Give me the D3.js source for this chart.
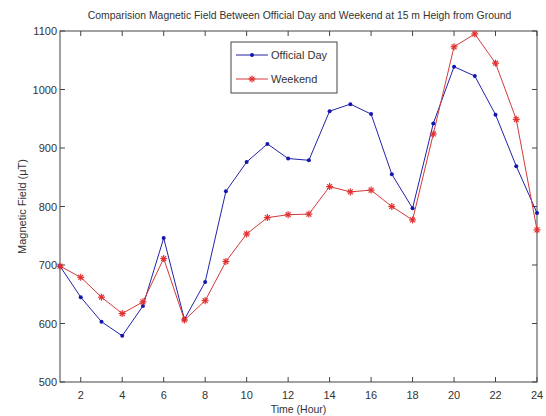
<!DOCTYPE html>
<html><head><meta charset="utf-8">
<script src="https://cdn.jsdelivr.net/npm/d3@7/dist/d3.min.js"></script>
<style>
body{margin:0;background:#fff;}
svg text{font-family:"Liberation Sans",Arial,sans-serif;fill:#333;}
</style></head>
<body><svg id="c" width="546" height="416"></svg>
<script>
const hours = [1,2,3,4,5,6,7,8,9,10,11,12,13,14,15,16,17,18,19,20,21,22,23,24];
const officialDay = [698,645,603,579,630,746,607,671,826,876,907,882,879,963,975,958,855,797,942,1039,1023,957,869,789];
const weekend = [698,679,645,617,637,711,606,639,706,753,781,786,787,834,825,828,800,777,924,1073,1095,1045,949,760];
const xTicks = [2,4,6,8,10,12,14,16,18,20,22,24];
const yTicks = [500,600,700,800,900,1000,1100];
const title = "Comparision Magnetic Field Between Official Day and Weekend at 15 m Heigh from Ground";
const xLabel = "Time (Hour)";
const yLabel = "Magnetic Field (\u03bcT)";
const seriesNames = ["Official Day","Weekend"];

const svg = d3.select("#c");
const L=60, R=537, T=31, B=382;
const x = d3.scaleLinear().domain([1,24]).range([L,R]);
const y = d3.scaleLinear().domain([500,1100]).range([B,T]);
const axisColor = "#444";

svg.append("rect").attr("x",L).attr("y",T).attr("width",R-L).attr("height",B-T)
  .attr("fill","none").attr("stroke",axisColor).attr("stroke-width",1);

const g = svg.append("g").attr("stroke",axisColor).attr("stroke-width",1);
xTicks.forEach(t=>{
  g.append("line").attr("x1",x(t)).attr("x2",x(t)).attr("y1",B).attr("y2",B-5);
  g.append("line").attr("x1",x(t)).attr("x2",x(t)).attr("y1",T).attr("y2",T+5);
});
yTicks.forEach(t=>{
  g.append("line").attr("x1",L).attr("x2",L+5).attr("y1",y(t)).attr("y2",y(t));
  g.append("line").attr("x1",R).attr("x2",R-5).attr("y1",y(t)).attr("y2",y(t));
});
xTicks.forEach(t=>{
  svg.append("text").attr("x",x(t)).attr("y",B+17).attr("text-anchor","middle")
    .attr("font-size",11).text(t);
});
yTicks.forEach(t=>{
  svg.append("text").attr("x",L-3).attr("y",y(t)+4).attr("text-anchor","end")
    .attr("font-size",11).text(t);
});
svg.append("text").attr("x",(L+R)/2).attr("y",413).attr("text-anchor","middle")
  .attr("font-size",10.5).text(xLabel);
svg.append("text").attr("transform",`translate(26,${(T+B)/2}) rotate(-90)`)
  .attr("text-anchor","middle").attr("font-size",11).text(yLabel);
svg.append("text").attr("x",(L+R)/2+1).attr("y",19).attr("text-anchor","middle")
  .attr("font-size",10.4).text(title);

const line = d3.line().x((d,i)=>x(hours[i])).y(d=>y(d));
const blue="#2323a8", red="#d23a3a";
svg.append("path").datum(officialDay).attr("d",line).attr("fill","none")
  .attr("stroke",blue).attr("stroke-width",1);
svg.append("path").datum(weekend).attr("d",line).attr("fill","none")
  .attr("stroke",red).attr("stroke-width",1);

function star(sel,cx,cy,col){
  const s=3.5;
  const gg=sel.append("g").attr("stroke",col).attr("stroke-width",1.2);
  gg.append("line").attr("x1",cx-s).attr("x2",cx+s).attr("y1",cy).attr("y2",cy);
  gg.append("line").attr("x1",cx).attr("x2",cx).attr("y1",cy-s).attr("y2",cy+s);
  gg.append("line").attr("x1",cx-s*0.7).attr("x2",cx+s*0.7).attr("y1",cy-s*0.7).attr("y2",cy+s*0.7);
  gg.append("line").attr("x1",cx-s*0.7).attr("x2",cx+s*0.7).attr("y1",cy+s*0.7).attr("y2",cy-s*0.7);
}
officialDay.forEach((d,i)=>{
  svg.append("circle").attr("cx",x(hours[i])).attr("cy",y(d)).attr("r",2).attr("fill","#1515b0");
});
weekend.forEach((d,i)=>star(svg,x(hours[i]),y(d),"#e23030"));

const lg = svg.append("g");
lg.append("rect").attr("x",231).attr("y",42).attr("width",106).attr("height",51)
  .attr("fill","#fff").attr("stroke",axisColor).attr("stroke-width",1);
[[blue,55],[red,79]].forEach(([c,yy],i)=>{
  lg.append("line").attr("x1",236).attr("x2",268).attr("y1",yy).attr("y2",yy)
    .attr("stroke",c).attr("stroke-width",1);
  if(i===0) lg.append("circle").attr("cx",252).attr("cy",yy).attr("r",2).attr("fill","#1515b0");
  else star(lg,252,yy,"#e23030");
  lg.append("text").attr("x",271).attr("y",yy+4).attr("font-size",11).text(seriesNames[i]);
});
</script></body></html>
